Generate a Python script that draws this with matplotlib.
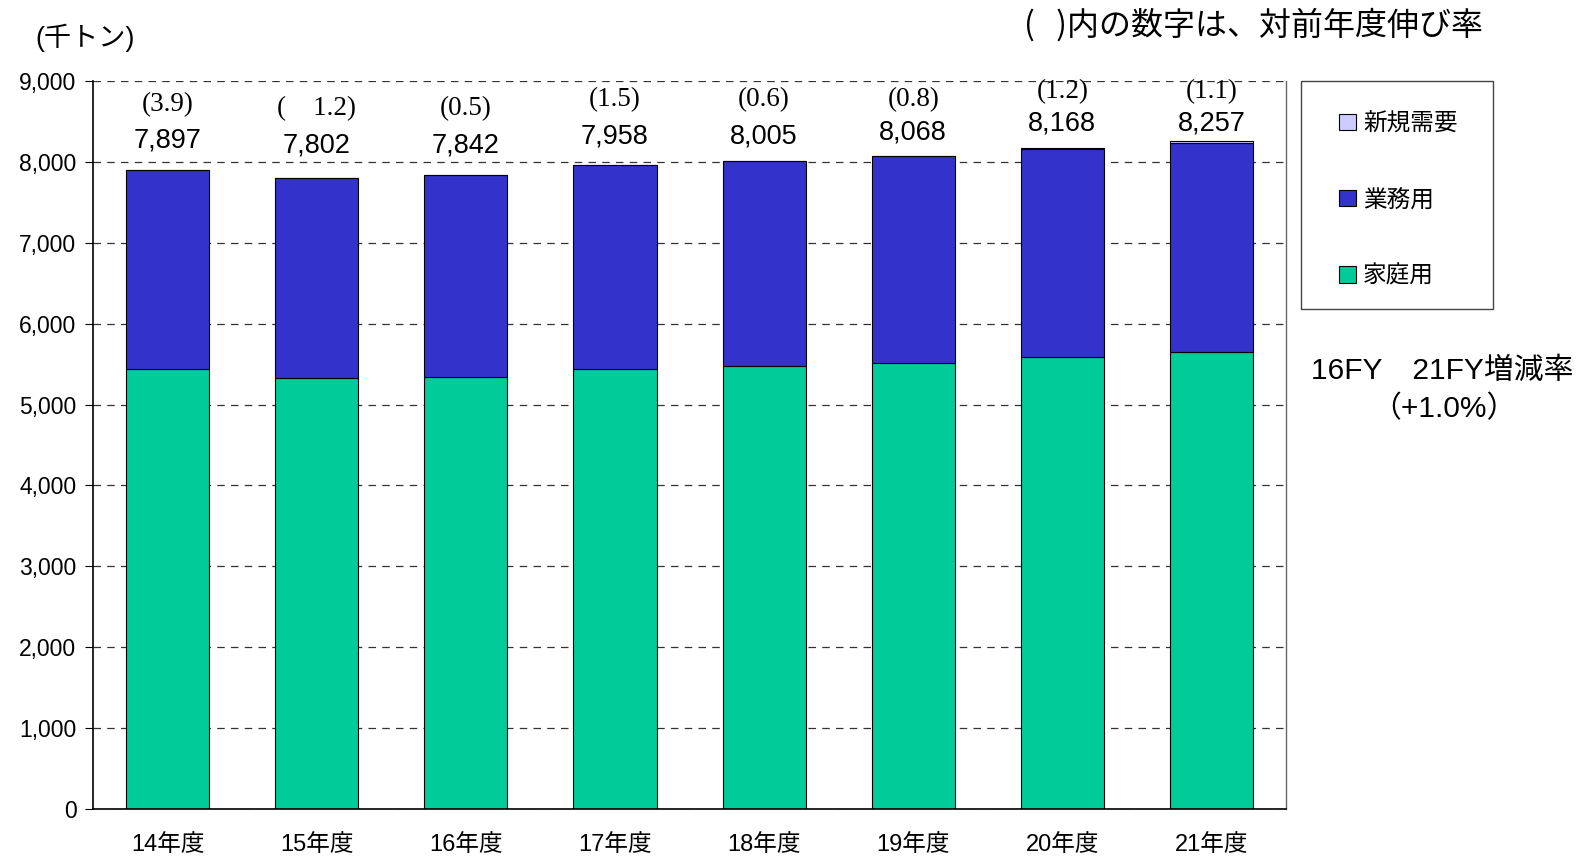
import numpy as np
import matplotlib.pyplot as plt
import matplotlib.patches as mpatches

# fiscal years (thousand tons)
years = ['14年度', '15年度', '16年度', '17年度', '18年度', '19年度', '20年度', '21年度']
household = [5443, 5331, 5343, 5443, 5481, 5518, 5593, 5655]
total = [7897, 7802, 7842, 7958, 8005, 8068, 8168, 8257]
new_demand = [0, 0, 0, 0, 0, 0, 8, 25]
business = [t - h - n for t, h, n in zip(total, household, new_demand)]
growth = ['(3.9)', '(    1.2)', '(0.5)', '(1.5)', '(0.6)', '(0.8)', '(1.2)', '(1.1)']

# label heights (data units) as placed in the original
num_y = [8265, 8202, 8202, 8315, 8315, 8365, 8477, 8477]
pct_y = [8702, 8664, 8664, 8764, 8764, 8764, 8864, 8864]

sans = ['Liberation Sans', 'Noto Sans CJK JP']
jp = ['Noto Sans CJK JP', 'Liberation Sans']

c_house = '#00CC99'
c_biz = '#3333CC'
c_new = '#CCCCFF'

fig = plt.figure(figsize=(15.83, 8.56), dpi=100)
ax = fig.add_axes([0.0588, 0.0549, 0.7536, 0.8505])

x = np.arange(len(years))
w = 0.557
ax.bar(x, household, w, color=c_house, edgecolor='black', linewidth=0.8, zorder=2)
ax.bar(x, business, w, bottom=household, color=c_biz, edgecolor='black',
       linewidth=0.8, zorder=2)
bot2 = [h + b for h, b in zip(household, business)]
ax.bar(x, new_demand, w, bottom=bot2, color=c_new, edgecolor='black',
       linewidth=0.8, zorder=2)

for i in range(len(years)):
    ax.text(x[i], num_y[i], f'{total[i]:,}', ha='center', va='center',
            fontsize=19.5, family=sans)
    ax.text(x[i], pct_y[i], growth[i], ha='center', va='center',
            fontsize=19.5, family='Liberation Serif')

ax.set_xlim(-0.5, len(years) - 0.5)
ax.set_ylim(0, 9000)
ax.set_yticks(np.arange(0, 9001, 1000))
ax.set_yticklabels([f'{v:,}' for v in range(0, 9001, 1000)], family=sans, fontsize=16.5)
ax.set_xticks(x)
ax.set_xticklabels(years, family=sans, fontsize=17)
ax.tick_params(axis='x', length=0, pad=18)
ax.tick_params(axis='y', length=6, direction='out', pad=6)

ax.yaxis.grid(True, linestyle=(0, (6, 5)), color='#333333', linewidth=0.9)
ax.set_axisbelow(True)
ax.spines['top'].set_visible(False)
ax.spines['right'].set_color('#666666')
ax.spines['right'].set_linewidth(1.0)
ax.spines['left'].set_linewidth(1.2)
ax.spines['bottom'].set_linewidth(1.2)

# texts around the plot
fig.text(35 / 1583, 1 - 38 / 856, '(千トン)', family=sans, fontsize=19.5,
         ha='left', va='center')
fig.text(1024 / 1583, 1 - 25 / 856, '(   )内の数字は、対前年度伸び率', family=jp,
         fontsize=23, ha='left', va='center')
fig.text(1311 / 1583, 1 - 371 / 856, '16FY　21FY増減率', family=sans,
         fontsize=21.5, ha='left', va='center')
fig.text(1444 / 1583, 1 - 409 / 856, '（+1.0%）', family=sans,
         fontsize=21.5, ha='center', va='center')

# legend box
box = mpatches.Rectangle((1301 / 1583, 1 - 309 / 856), 192 / 1583, 228 / 856,
                         transform=fig.transFigure, fill=False,
                         edgecolor='#444444', linewidth=1.0)
fig.patches.append(box)
handles = [mpatches.Patch(facecolor=c, edgecolor='black', linewidth=0.8)
           for c in (c_new, c_biz, c_house)]
fig.legend(handles, ['新規需要', '業務用', '家庭用'], loc='upper left',
           bbox_to_anchor=(1318 / 1583, 1 - 91 / 856), frameon=False,
           prop={'family': jp, 'size': 17}, handlelength=0.7, handleheight=0.7,
           handletextpad=0.3, labelspacing=2.25)

fig.savefig('out.png', dpi=100)
